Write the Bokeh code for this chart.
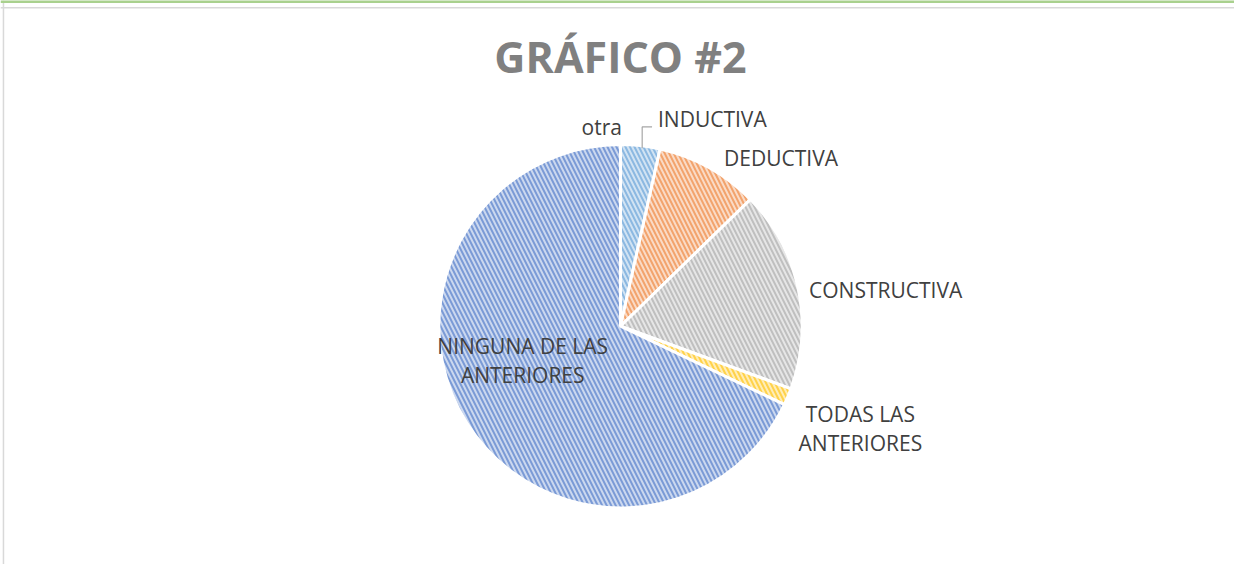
import math
from bokeh.plotting import figure
from bokeh.models import Range1d, Span, ColumnDataSource
from bokeh.core.properties import value
from bokeh.embed import file_html
from bokeh.resources import INLINE

# ---- data ----
categories = ["INDUCTIVA", "DEDUCTIVA", "CONSTRUCTIVA", "TODAS LAS ANTERIORES",
              "NINGUNA DE LAS ANTERIORES", "otra"]
values = [3.5, 9.2, 17.9, 1.5, 67.9, 0.0]
colors = ["#5B9BD5", "#ED7D31", "#A5A5A5", "#FFC000", "#4472C4", "#70AD47"]
label_texts = ["INDUCTIVA", "DEDUCTIVA", "CONSTRUCTIVA", "TODAS LAS\nANTERIORES",
               "NINGUNA DE LAS\nANTERIORES", "otra"]
title_text = "GRÁFICO #2"

# ---- layout (reference pixel space, y measured from bottom) ----
W, H = 1234, 564          # figure size
RW, RH = 1250, 580        # reference space mapped onto the figure
CX, CY, R = 628, 580 - 335, 184
label_pos = {
    "INDUCTIVA": (666, 580 - 122, "left"),
    "DEDUCTIVA": (733, 580 - 162, "left"),
    "CONSTRUCTIVA": (819, 580 - 298, "left"),
    "TODAS LAS ANTERIORES": (871, 580 - 440, "center"),
    "NINGUNA DE LAS ANTERIORES": (529, 580 - 370, "center"),
    "otra": (609, 580 - 130, "center"),
}

total = sum(values)
starts, ends = [], []
cum = 0.0
for v in values:
    starts.append(math.pi / 2 - 2 * math.pi * cum / total)
    cum += v
    ends.append(math.pi / 2 - 2 * math.pi * cum / total)

idx = [i for i, v in enumerate(values) if v > 0]
src = ColumnDataSource(dict(
    cat=[categories[i] for i in idx],
    start=[starts[i] for i in idx],
    end=[ends[i] for i in idx],
    color=[colors[i] for i in idx],
))

p = figure(width=W, height=H, x_range=Range1d(0, RW), y_range=Range1d(0, RH),
           output_backend="svg", toolbar_location=None, min_border=0,
           x_axis_type=None, y_axis_type=None)
p.grid.visible = False
p.outline_line_color = None
p.background_fill_color = "white"
p.border_fill_color = "white"

p.wedge(x=CX, y=CY, radius=R, start_angle="start", end_angle="end",
        direction="clock", source=src,
        fill_color="color", fill_alpha=0.28,
        hatch_pattern="\\", hatch_color="color", hatch_alpha=0.6,
        hatch_scale=9, hatch_weight=2,
        line_color="white", line_width=3)

# leader line for INDUCTIVA
p.line([660, 650, 650], [580 - 130, 580 - 130, 580 - 152],
       line_color="#A6A6A6", line_width=1.2)

lab_font = value("Open Sans")
for cat, txt in zip(categories, label_texts):
    x, y, al = label_pos[cat]
    p.text(x=[x], y=[y], text=[txt], text_font=lab_font, text_font_size="21px",
           text_color="#404040", text_align=al, text_baseline="middle",
           text_line_height=1.05)

p.text(x=[628], y=[580 - 58], text=[title_text], text_font=value("Open Sans"),
       text_font_style="bold", text_font_size="43px", text_color="#808080",
       text_align="center", text_baseline="middle")

# chart-area frame and top accent line
p.add_layout(Span(location=3, dimension="height", line_color="#D9D9D9", line_width=1.5))
p.add_layout(Span(location=RH - 7.5, dimension="width", line_color="#D9D9D9", line_width=1.5))
p.add_layout(Span(location=RH - 1, dimension="width", line_color="#A9D18E", line_width=3))

open("out.html", "w").write(file_html(p, INLINE))
